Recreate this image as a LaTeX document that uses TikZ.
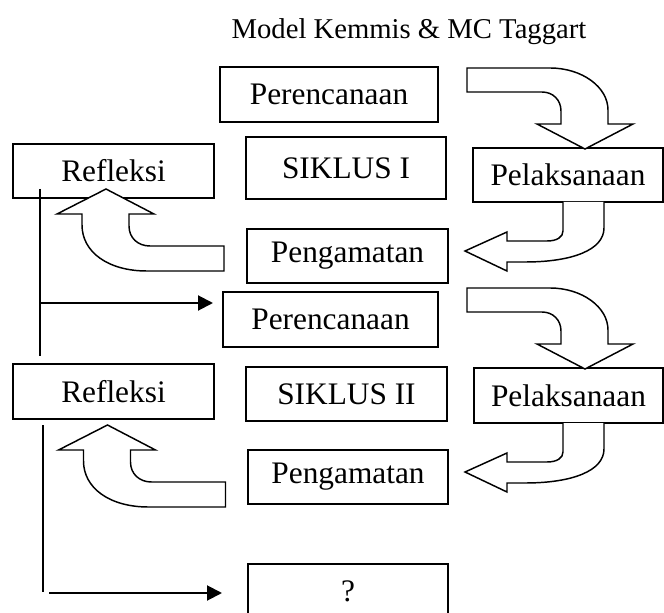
\documentclass[tikz,border=0pt]{standalone}
\usepackage{fontspec}
\setmainfont{Liberation Serif}
\usetikzlibrary{arrows.meta}
\begin{document}
\begin{tikzpicture}[x=0.75pt,y=-0.75pt,
  box/.style args={#1x#2}{draw,line width=1.5pt,inner sep=0pt,
    minimum width=#1*0.75pt,minimum height=#2*0.75pt,
    font=\fontsize{23.5}{28}\selectfont},
  blockarrow/.style={draw,line width=1.1pt,fill=white,line join=miter},
  conn/.style={line width=1.5pt},
  tipped/.style={conn,-{Triangle[length=11.25pt,width=11.25pt]}}]
\useasboundingbox (0,0) rectangle (664,613);
\node[font=\fontsize{21.5}{26}\selectfont] (title) at (409,32) {Model Kemmis \& MC Taggart};
% cycle I
\node[box=218x55] (per1) at (329,94.5) {Perencanaan};
\node[box=200x62] (sik1) at (346,168) {SIKLUS I};
\node[box=201x54] (ref1) at (113.5,171) {Refleksi};
\node[box=190x54] (pel1) at (568,175) {Pelaksanaan};
\node[box=201x54] (pen1) at (347.5,256) {Pengamatan};
% cycle II
\node[box=215x55] (per2) at (330.5,319.5) {Perencanaan};
\node[box=201x55] (ref2) at (113.5,391.5) {Refleksi};
\node[box=201x54] (sik2) at (346.5,394) {SIKLUS II};
\node[box=189x55] (pel2) at (568.5,395.5) {Pelaksanaan};
\node[box=200x54] (pen2) at (348,477) {Pengamatan};
\node[box=200x54] (q) at (348,591) {?};
% block arrows
\foreach \dy in {0,220}{
\begin{scope}[yshift=-\dy*0.75pt]
\draw[blockarrow] (467,68) -- (550,68) .. controls (582,68) and (608,87) .. (608,110)
  -- (608,124) -- (633,124) -- (585,149) -- (537,124) -- (561,124) -- (561,111)
  .. controls (561,100) and (553,92) .. (542,92) -- (467,92) -- cycle;
\end{scope}}
\foreach \dy in {0,221}{
\begin{scope}[yshift=-\dy*0.75pt]
\draw[blockarrow] (563,202) -- (563,231) .. controls (563,237) and (557,241) .. (547,241)
  -- (507,241) -- (507,232) -- (465,251) -- (507,271) -- (507,262) -- (525,262)
  .. controls (572,262) and (604,250) .. (604,228) -- (604,202);
\end{scope}}
\foreach \dx/\dy in {0/0,1.5/236}{
\begin{scope}[xshift=\dx*0.75pt,yshift=-\dy*0.75pt]
\draw[blockarrow] (224,246) -- (150,246) .. controls (138,246) and (129,238) .. (129,226)
  -- (129,214) -- (154,214) -- (106,189) -- (57,214) -- (82,214) -- (82,225)
  .. controls (82,252) and (108,271) .. (147,271) -- (224,271) -- cycle;
\end{scope}}
% connectors
\coordinate (a1) at (40,189);
\coordinate (a2) at (40,356);
\coordinate (a3) at (40,303);
\coordinate (a4) at (213,303);
\draw[conn] (a1) -- (a2);
\draw[tipped] (a3) -- (a4);
\coordinate (b1) at (43,425);
\coordinate (b2) at (43,592);
\coordinate (b3) at (49,593);
\coordinate (b4) at (222,593);
\draw[conn] (b1) -- (b2);
\draw[tipped] (b3) -- (b4);
\end{tikzpicture}
\end{document}
